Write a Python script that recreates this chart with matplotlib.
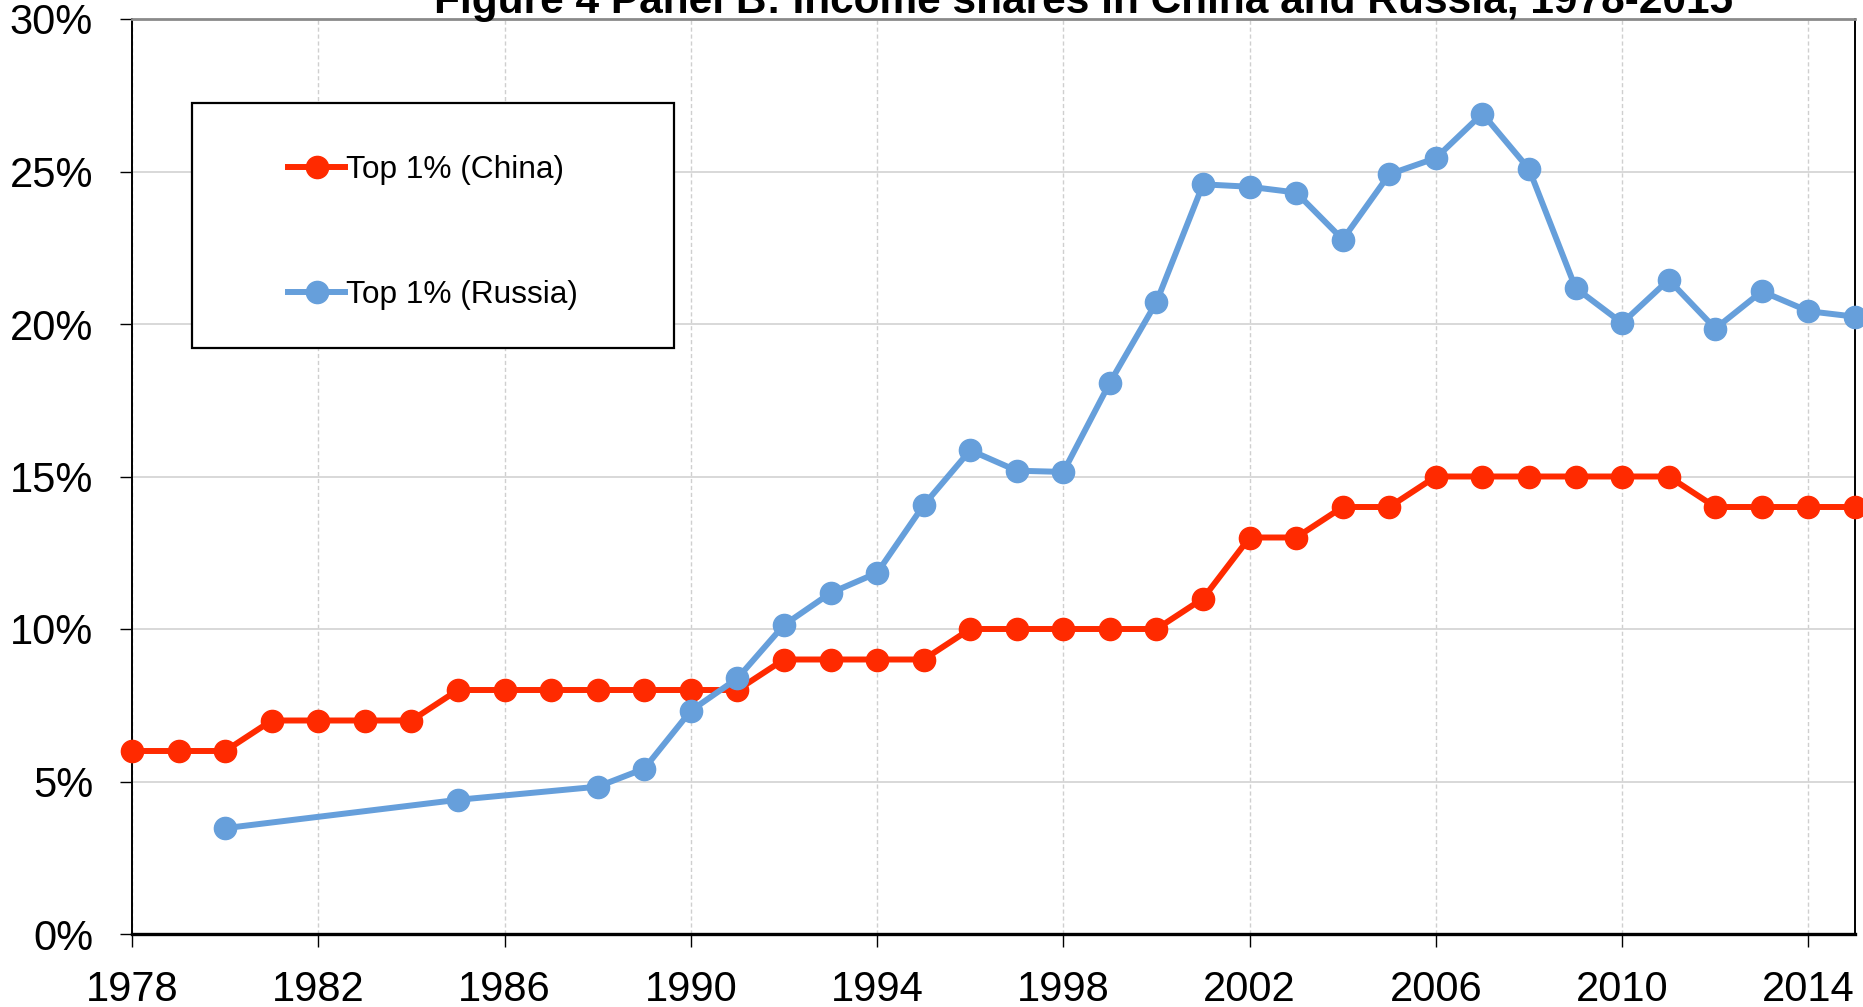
import matplotlib
matplotlib.use("Agg")
import matplotlib.pyplot as plt
from matplotlib.patches import Rectangle
from matplotlib.ticker import FuncFormatter, MultipleLocator

plt.rcParams['font.family'] = ['Liberation Sans', 'DejaVu Sans']

china_years = list(range(1978, 2016))
china_top1 = [6, 6, 6, 7, 7, 7, 7, 8, 8, 8, 8, 8, 8, 8, 9, 9, 9, 9, 10, 10,
              10, 10, 10, 11, 13, 13, 14, 14, 15, 15, 15, 15, 15, 15, 14, 14, 14, 14]

russia_years = [1980, 1985, 1988, 1989, 1990, 1991, 1992, 1993, 1994, 1995, 1996,
                1997, 1998, 1999, 2000, 2001, 2002, 2003, 2004, 2005, 2006, 2007,
                2008, 2009, 2010, 2011, 2012, 2013, 2014, 2015]
russia_top1 = [3.47, 4.40, 4.83, 5.42, 7.32, 8.38, 10.13, 11.18, 11.84, 14.06, 15.86,
               15.19, 15.15, 18.08, 20.72, 24.58, 24.50, 24.31, 22.77, 24.91, 25.44, 26.90,
               25.08, 21.18, 20.03, 21.45, 19.85, 21.07, 20.42, 20.24]

x_ticks = list(range(1978, 2015, 4))
title = "Figure 4 Panel B: Income shares in China and Russia, 1978-2015"

W, H = 1863, 1007
fig = plt.figure(figsize=(W / 100, H / 100), dpi=100)
ax = fig.add_axes([132 / W, 1 - 934 / H, (1855 - 132) / W, (934 - 19) / H])

red = '#FF2A00'
blue = '#669FDB'
ax.plot(china_years, china_top1, color=red, lw=4.3, marker='o', ms=16,
        label='Top 1% (China)', zorder=3, clip_on=False)
ax.plot(russia_years, russia_top1, color=blue, lw=4.3, marker='o', ms=16,
        label='Top 1% (Russia)', zorder=3, clip_on=False)

ax.set_xlim(1978, 2015)
ax.set_ylim(0, 30)
ax.set_xticks(x_ticks)
ax.yaxis.set_major_locator(MultipleLocator(5))
ax.yaxis.set_major_formatter(FuncFormatter(lambda v, p: f"{v:.0f}%"))

ax.grid(axis='y', color='#d6d6d6', lw=1.3, ls='-', zorder=0)
ax.grid(axis='x', color='#cfcfcf', lw=1.0, ls=(0, (3, 2)), zorder=0)
ax.set_axisbelow(True)

for s in ['left', 'right']:
    ax.spines[s].set_color('black')
    ax.spines[s].set_linewidth(1.4)
ax.spines['bottom'].set_color('black')
ax.spines['bottom'].set_linewidth(2.4)
ax.spines['top'].set_color('#8a8a8a')
ax.spines['top'].set_linewidth(2.0)

ax.tick_params(axis='both', direction='out', length=9, width=1.0, color='black',
               labelsize=30)
ax.tick_params(axis='y', pad=19)
ax.tick_params(axis='x', pad=17)

fig.text(1083 / W, 1 - 13 / H, title, ha='center', va='baseline',
         fontsize=30.5, fontweight='bold')

# legend box
box = Rectangle((192 / W, 1 - 348 / H), (674 - 192) / W, (348 - 103) / H,
                transform=fig.transFigure, fill=True, facecolor='white',
                edgecolor='black', lw=1.6, zorder=5, clip_on=False)
ax.add_patch(box)
leg = ax.legend(loc='upper left', bbox_to_anchor=(288 / W, 1 - 155 / H),
                bbox_transform=fig.transFigure, frameon=False, fontsize=22.8,
                handlelength=1.8, handletextpad=0.02, labelspacing=3.0,
                borderpad=0, borderaxespad=0)
leg.set_zorder(6)

fig.savefig('out.png', dpi=100)
